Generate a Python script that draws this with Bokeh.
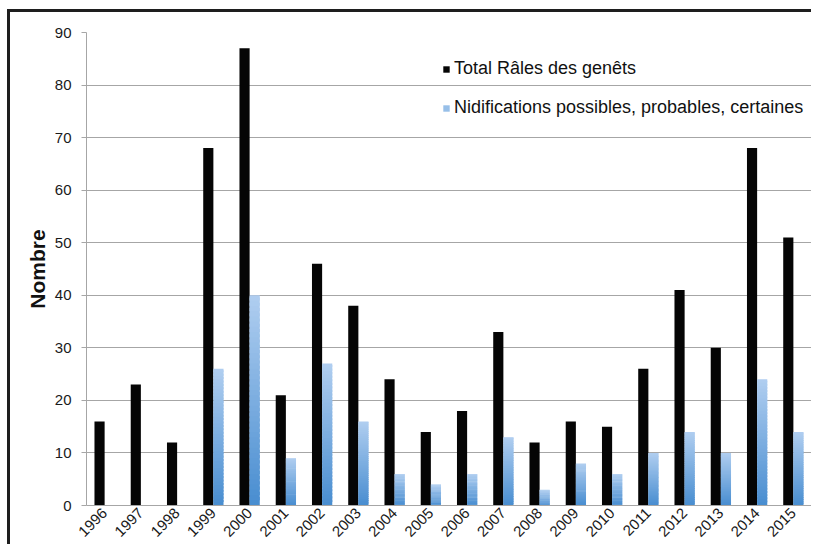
import math
from bokeh.plotting import figure
from bokeh.layouts import column
from bokeh.models import (FactorRange, Range1d, FixedTicker, Legend, LegendItem,
                          ColumnDataSource)
from bokeh.transform import dodge
from bokeh.embed import file_html
from bokeh.resources import INLINE

# ---- data ----
years = ["1996", "1997", "1998", "1999", "2000", "2001", "2002", "2003", "2004", "2005",
         "2006", "2007", "2008", "2009", "2010", "2011", "2012", "2013", "2014", "2015"]
total = [16, 23, 12, 68, 87, 21, 46, 38, 24, 14, 18, 33, 12, 16, 15, 26, 41, 30, 68, 51]
nidif = [0, 0, 0, 26, 40, 9, 27, 16, 6, 4, 6, 13, 3, 8, 6, 10, 14, 10, 24, 14]
y_ticks = [0, 10, 20, 30, 40, 50, 60, 70, 80, 90]
label_total = "Total Râles des genêts"
label_nidif = "Nidifications possibles, probables, certaines"
y_label = "Nombre"

FONT = "Liberation Sans"
BAR_W = 0.28
TOP_C = (176, 206, 240)
BOT_C = (72, 141, 208)
N = 40

def mix(t):
    r = [round(BOT_C[j] + (TOP_C[j] - BOT_C[j]) * t) for j in range(3)]
    return "#%02x%02x%02x" % tuple(r)

frame_css = {
    "background-image": "linear-gradient(#1e1e1e, #1e1e1e), linear-gradient(#1e1e1e, #1e1e1e)",
    "background-size": "calc(100% - 7px) 3px, 3px calc(100% - 9px)",
    "background-position": "7px 9px, 7px 9px",
    "background-repeat": "no-repeat, no-repeat",
}

p = figure(width=811, height=544, output_backend="svg", toolbar_location=None,
           x_range=FactorRange(factors=years), y_range=Range1d(0, 90),
           min_border_left=86, min_border_top=32, min_border_right=0,
           min_border_bottom=38)
p.x_range.range_padding = 0
p.outline_line_color = None
p.background_fill_color = "white"
p.border_fill_color = None

# black bars
src_t = ColumnDataSource(dict(year=years, top=total))
r_total = p.vbar(x=dodge("year", -BAR_W / 2, range=p.x_range), top="top", width=BAR_W,
                 source=src_t, fill_color="#050505", line_color=None)

# blue gradient bars (each bar split in slices coloured from dark bottom to light top)
sy, sb, st, sc = [], [], [], []
for yr, v in zip(years, nidif):
    if v <= 0:
        continue
    for k in range(N):
        sy.append(yr)
        sb.append(v * k / N)
        st.append(v * min(k + 1.6, N) / N)
        sc.append(mix((k + 0.5) / N))
src_n = ColumnDataSource(dict(year=sy, bottom=sb, top=st, color=sc))
r_nidif = p.quad(left=dodge("year", 0.0, range=p.x_range),
                 right=dodge("year", BAR_W, range=p.x_range),
                 bottom="bottom", top="top", source=src_n,
                 fill_color="color", line_color=None)

# axes
p.yaxis.ticker = FixedTicker(ticks=y_ticks)
p.yaxis.axis_line_color = "#a6a6a6"
p.yaxis.major_tick_line_color = "#a6a6a6"
p.yaxis.major_tick_out = 5
p.yaxis.major_tick_in = 0
p.yaxis.minor_tick_line_color = None
p.yaxis.major_label_text_font = FONT
p.yaxis.major_label_text_font_size = "15px"
p.yaxis.major_label_text_color = "#1a1a1a"
p.yaxis.major_label_standoff = 10
p.yaxis.axis_label = y_label
p.yaxis.axis_label_text_font = FONT
p.yaxis.axis_label_text_font_style = "bold"
p.yaxis.axis_label_text_font_size = "21px"
p.yaxis.axis_label_text_color = "#111111"
p.yaxis.axis_label_standoff = 3

p.xaxis.axis_line_color = "#a6a6a6"
p.xaxis.major_tick_line_color = None
p.xaxis.major_tick_out = 0
p.xaxis.major_tick_in = 0
p.xaxis.minor_tick_line_color = None
p.xaxis.major_label_orientation = math.pi / 4
p.xaxis.major_label_text_font = FONT
p.xaxis.major_label_text_font_size = "15px"
p.xaxis.major_label_text_color = "#1a1a1a"
p.xaxis.major_label_standoff = 5

p.xgrid.grid_line_color = None
p.ygrid.grid_line_color = "#a6a6a6"
p.ygrid.grid_line_width = 1

legend = Legend(items=[
    LegendItem(label=label_total, renderers=[r_total]),
    LegendItem(label=label_nidif, renderers=[r_nidif], index=int(N * 0.75)),
], location=(356, 387))
legend.label_text_font = FONT
legend.label_text_font_size = "18px"
legend.label_text_color = "#111111"
legend.glyph_width = 8
legend.glyph_height = 8
legend.label_height = 20
legend.spacing = 18
legend.padding = 10
legend.label_standoff = 4
legend.background_fill_alpha = 0
legend.border_line_color = None
p.add_layout(legend)

layout = column(p, styles=frame_css)
open("out.html", "w").write(file_html(layout, INLINE))
